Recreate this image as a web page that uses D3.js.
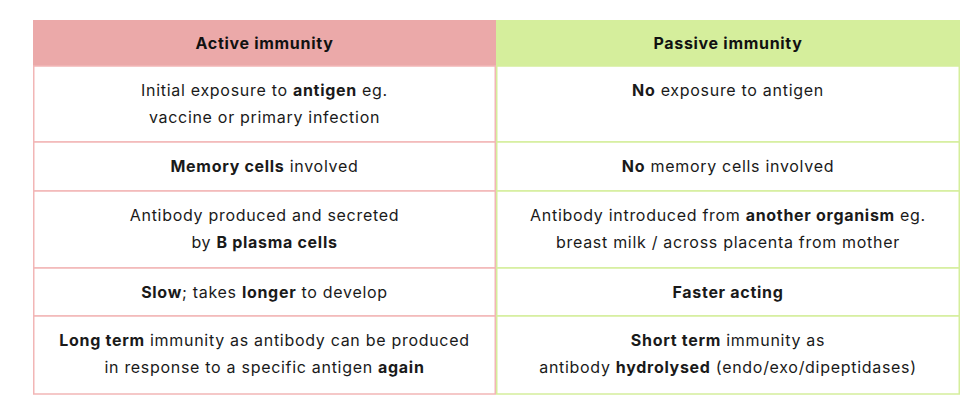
<!DOCTYPE html>
<html><head><meta charset="utf-8">
<script src="https://cdn.jsdelivr.net/npm/d3@7"></script>
<style>body{margin:0;background:#fff;}svg{display:block;font-family:Inter,"Open Sans",sans-serif;letter-spacing:0.7px;}</style>
</head><body><svg id="c" width="980" height="416"></svg>
<script>
const headers = ["Active immunity", "Passive immunity"];
const activeCells = [
  [[["Initial exposure to ",0],["antigen",1],[" eg.",0]], [["vaccine or primary infection",0]]],
  [[["Memory cells",1],[" involved",0]]],
  [[["Antibody produced and secreted",0]], [["by ",0],["B plasma cells",1]]],
  [[["Slow",1],["; takes ",0],["longer",1],[" to develop",0]]],
  [[["Long term",1],[" immunity as antibody can be produced",0]], [["in response to a specific antigen ",0],["again",1]]]
];
const passiveCells = [
  [[["No",1],[" exposure to antigen",0]]],
  [[["No",1],[" memory cells involved",0]]],
  [[["Antibody introduced from ",0],["another organism",1],[" eg.",0]], [["breast milk / across placenta from mother",0]]],
  [[["Faster acting",1]]],
  [[["Short term",1],[" immunity as",0]], [["antibody ",0],["hydrolysed",1],[" (endo/exo/dipeptidases)",0]]]
];
const rowBounds = [20, 66, 142, 191, 268, 316, 394];
const colBounds = [33, 496, 960];
const headFill = ["#eba9a9", "#d5ee9c"];
const borderCol = ["#f2b6b6", "#d5ee9c"];

const svg = d3.select("#c");
const x = d3.scaleOrdinal().domain([0,1,2]).range(colBounds);
const y = d3.scaleOrdinal().domain(d3.range(rowBounds.length)).range(rowBounds);
const cols = [activeCells, passiveCells];

cols.forEach((cells, ci) => {
  const x0 = x(ci), x1 = x(ci+1), cx = (x0+x1)/2;
  svg.append("rect").attr("x", x0).attr("y", y(0)).attr("width", x1-x0).attr("height", y(1)-y(0)).attr("fill", headFill[ci]);
  svg.append("text").attr("x", cx).attr("y", (y(0)+y(1))/2 + 6).attr("text-anchor","middle")
    .attr("font-size", 16).attr("font-weight", 700).attr("fill","#111").text(headers[ci]);
  cells.forEach((lines, ri) => {
    const top = y(ri+1), bot = y(ri+2);
    svg.append("rect").attr("x", x0+0.75).attr("y", top).attr("width", x1-x0-1.5).attr("height", bot-top)
      .attr("fill","#fff").attr("stroke", borderCol[ci]).attr("stroke-width",1.5);
    lines.forEach((segs, li) => {
      const t = svg.append("text").attr("x", cx).attr("y", top + 30 + li*27).attr("text-anchor","middle")
        .attr("font-size", 16).attr("fill","#1a1a1a");
      segs.forEach(s => t.append("tspan").attr("font-weight", s[1]?700:400).text(s[0]));
    });
  });
});
</script></body></html>
